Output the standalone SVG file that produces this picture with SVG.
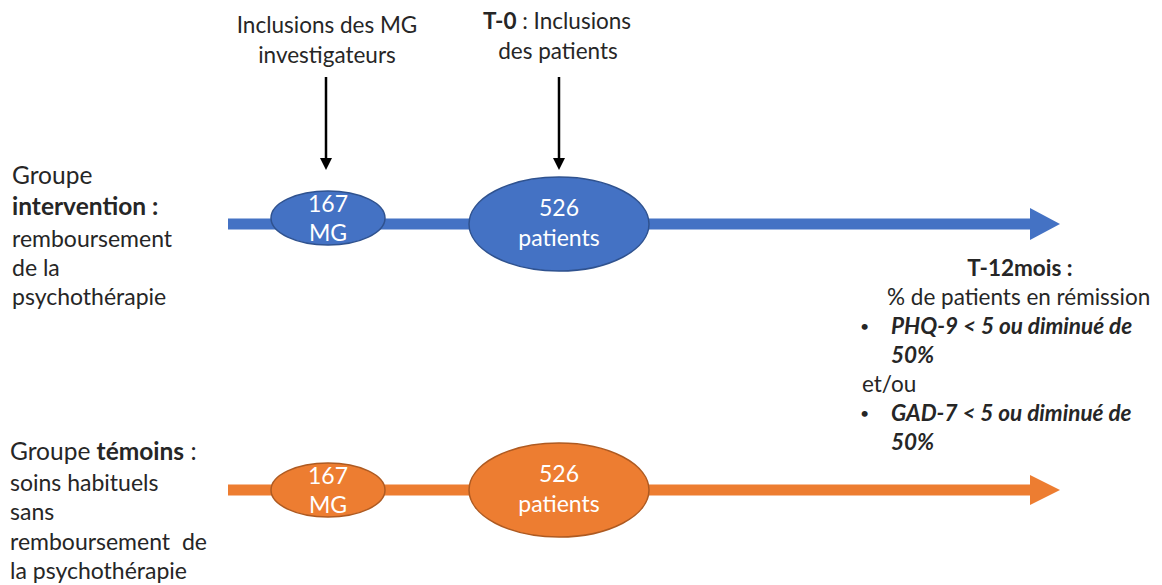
<svg xmlns="http://www.w3.org/2000/svg" width="1162" height="585" viewBox="0 0 1162 585">
<style>
text{font-family:Lato,"Open Sans","Liberation Sans",sans-serif;fill:#262626;font-size:22.5px}
.w{fill:#ffffff;font-size:23px}
.b{font-weight:bold}
.bi{font-weight:bold;font-style:italic}
.s{font-size:23px}
.h{font-size:24.5px}
.dot{font-size:16px}
.blue{fill:#4472C4;stroke:#2F528F;stroke-width:1.5}
.orange{fill:#ED7D31;stroke:#AE5A21;stroke-width:1.5}
.pin{stroke:#000;stroke-width:2.5;fill:none}
</style>
<defs>
<marker id="ah" markerWidth="12" markerHeight="12" refX="5" refY="5" orient="auto" markerUnits="userSpaceOnUse" viewBox="0 0 10 10">
<path d="M0,0 L10,5 L0,10 Z" fill="#000"/>
</marker>
</defs>
<g id="connectors">
<path d="M228,224 H1032" stroke="#4472C4" stroke-width="11"/>
<path d="M1030,208 L1060,224 L1030,240 Z" fill="#4472C4"/>
<path d="M228,490 H1032" stroke="#ED7D31" stroke-width="11"/>
<path d="M1030,475 L1060,490 L1030,505 Z" fill="#ED7D31"/>
<path class="pin" d="M326,77 V164" marker-end="url(#ah)"/>
<path class="pin" d="M559,77 V164" marker-end="url(#ah)"/>
</g>
<g id="label-mg">
<text x="327" y="33" text-anchor="middle">Inclusions des MG</text>
<text x="327" y="63" text-anchor="middle">investigateurs</text>
</g>
<g id="label-t0">
<text x="557" y="29" text-anchor="middle"><tspan class="b">T-0</tspan> : Inclusions</text>
<text x="558" y="59" text-anchor="middle">des patients</text>
</g>
<g id="blue-mg">
<ellipse class="blue" cx="328" cy="218" rx="57" ry="27"/>
<text class="w" x="328" y="212" text-anchor="middle">167</text>
<text class="w" x="328" y="241" text-anchor="middle">MG</text>
</g>
<g id="blue-patients">
<ellipse class="blue" cx="559" cy="224" rx="90" ry="47"/>
<text class="w" x="559" y="216" text-anchor="middle">526</text>
<text class="w" x="559" y="246" text-anchor="middle">patients</text>
</g>
<g id="orange-mg">
<ellipse class="orange" cx="328" cy="490" rx="57" ry="27"/>
<text class="w" x="328" y="484" text-anchor="middle">167</text>
<text class="w" x="328" y="513" text-anchor="middle">MG</text>
</g>
<g id="orange-patients">
<ellipse class="orange" cx="559" cy="490" rx="90" ry="47"/>
<text class="w" x="559" y="482" text-anchor="middle">526</text>
<text class="w" x="559" y="512" text-anchor="middle">patients</text>
</g>
<g id="group-intervention">
<text class="h" x="12" y="184">Groupe</text>
<text class="b h" x="12" y="215">intervention :</text>
<text class="s" x="12" y="247">remboursement</text>
<text class="s" x="12" y="276">de la</text>
<text class="s" x="12" y="305">psychothérapie</text>
</g>
<g id="group-temoins">
<text class="h" x="10" y="460">Groupe <tspan class="b">témoins</tspan> :</text>
<text class="s" x="10" y="491">soins habituels</text>
<text class="s" x="10" y="520">sans</text>
<text class="s" x="10" y="550" word-spacing="6">remboursement de</text>
<text class="s" x="10" y="579">la psychothérapie</text>
</g>
<g id="outcome">
<text class="b" x="1020" y="276" text-anchor="middle">T-12mois :</text>
<text x="887" y="305">% de patients en rémission</text>
<text class="dot" x="860" y="332">•</text>
<text class="bi" x="891" y="334">PHQ-9 &lt; 5 ou diminué de</text>
<text class="bi" x="891" y="363">50%</text>
<text x="862" y="392">et/ou</text>
<text class="dot" x="860" y="419">•</text>
<text class="bi" x="891" y="421">GAD-7 &lt; 5 ou diminué de</text>
<text class="bi" x="891" y="450">50%</text>
</g>
</svg>
